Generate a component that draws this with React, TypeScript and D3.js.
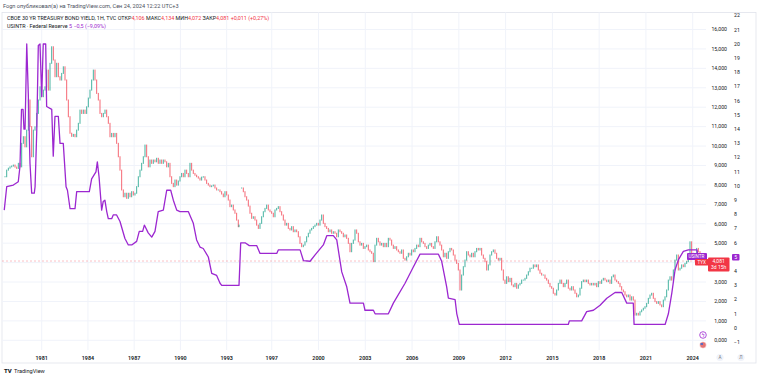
import React from 'react';
import * as d3 from 'd3';

const W = 758;
const H = 379;

const yearTicks = [1981, 1984, 1987, 1990, 1993, 1997, 2000, 2003, 2006, 2009, 2012, 2015, 2018, 2021, 2024];
const tyxTicks = [0, 1, 2, 3, 4, 5, 6, 7, 8, 9, 10, 11, 12, 13, 14, 15, 16];
const fedTicks = [-1, 0, 1, 2, 3, 4, 5, 6, 7, 8, 9, 10, 11, 12, 13, 14, 15, 16, 17, 18, 19, 20, 21, 22];

// USINTR (Federal Reserve rate) – step line
const fedYears = [
  1978.57, 1978.73, 1979.16, 1979.48, 1979.59, 1979.69, 1979.79, 1979.85, 1979.92, 1980.03,
  1980.13, 1980.24, 1980.35, 1980.52, 1980.57, 1980.68, 1980.78, 1980.89, 1981.0, 1981.1,
  1981.26, 1981.32, 1981.65, 1981.75, 1981.86, 1982.08, 1982.19, 1982.4, 1982.58, 1982.67,
  1982.84, 1983.16, 1983.27, 1984.09, 1984.24, 1984.52, 1984.61, 1984.72, 1984.89, 1984.99,
  1985.1, 1985.22, 1985.32, 1985.54, 1985.64, 1985.86, 1986.08, 1986.4, 1986.62, 1986.84,
  1987.16, 1987.33, 1987.55, 1987.66, 1987.91, 1988.14, 1988.35, 1988.56, 1988.89, 1989.11,
  1989.37, 1989.54, 1989.76, 1989.97, 1990.51, 1990.83, 1991.05, 1991.27, 1991.48, 1991.81,
  1992.03, 1992.35, 1992.57, 1992.68, 1993.8, 1995.01, 1995.29, 1995.56, 1996.04, 1996.25,
  1997.32, 1997.42, 1998.82, 1999.03, 1999.46, 1999.78, 2000.31, 2000.53, 2000.95, 2001.17,
  2001.49, 2001.81, 2002.02, 2002.88, 2002.98, 2003.52, 2003.63, 2004.48, 2004.8, 2005.55,
  2006.08, 2006.51, 2007.69, 2007.9, 2008.22, 2008.33, 2008.76, 2008.87, 2009.03, 2016.02,
  2016.09, 2016.88, 2017.2, 2017.63, 2018.06, 2018.49, 2019.02, 2019.45, 2019.77, 2020.19,
  2020.24, 2022.23, 2022.44, 2022.66, 2022.87, 2023.08, 2023.4, 2023.72, 2024.28, 2024.34,
];
const fedValues = [
  8.3, 9.95, 10.07, 10.3, 11.37, 15.4, 15.4, 14.0, 14.0, 20.0,
  16.5, 11.6, 9.5, 9.5, 9.95, 13.9, 19.9, 20.0, 16.3, 20.0,
  20.0, 15.6, 15.4, 12.1, 14.9, 14.9, 13.0, 13.0, 9.95, 9.7,
  8.4, 8.4, 9.6, 9.6, 10.5, 11.0, 11.7, 10.65, 8.3, 8.9,
  9.0, 8.2, 7.7, 7.7, 7.96, 7.96, 7.5, 6.3, 5.85, 5.85,
  6.1, 6.8, 6.8, 7.25, 6.7, 6.4, 6.8, 8.2, 8.3, 9.7,
  9.7, 9.0, 8.3, 8.2, 8.2, 7.4, 6.2, 5.7, 5.6, 5.0,
  3.85, 3.7, 3.15, 3.0, 3.0, 6.0, 6.0, 5.8, 5.8, 5.25,
  5.25, 5.5, 5.5, 4.75, 4.7, 5.15, 5.85, 6.5, 6.5, 6.2,
  3.95, 2.9, 1.75, 1.75, 1.25, 1.25, 1.0, 1.0, 1.75, 3.15,
  4.3, 5.2, 5.2, 4.7, 2.9, 2.1, 2.0, 1.0, 0.25, 0.25,
  0.5, 0.5, 1.15, 1.25, 1.6, 2.1, 2.5, 2.5, 1.75, 1.75,
  0.25, 0.25, 1.0, 2.45, 4.1, 4.8, 5.4, 5.5, 5.5, 5.0,
];

// TYX (CBOE 30Y yield) closes, regular sampling, two segments (data gap in 1994)
const tyxSeg1Start = 1978.62;
const tyxSeg1Step = 0.1081;
const tyxSeg1 = [
  8.42, 8.76, 8.86, 8.93, 8.97, 9.02, 8.92, 8.85, 9.11, 8.93,
  10.14, 10.48, 9.96, 10.82, 12.37, 11.0, 9.45, 10.82, 10.99, 11.68,
  12.37, 13.05, 12.54, 12.88, 13.05, 13.91, 12.88, 14.26, 15.11, 14.43,
  13.57, 14.26, 13.57, 13.4, 13.74, 14.08, 13.4, 12.37, 11.51, 10.66,
  10.5, 10.6, 10.48, 10.82, 11.17, 11.85, 11.68, 11.85, 11.68, 12.02,
  12.47, 12.88, 13.4, 13.91, 13.4, 12.71, 12.37, 11.68, 11.51, 11.68,
  11.85, 11.51, 11.17, 10.48, 10.65, 10.48, 10.65, 10.14, 9.45, 8.76,
  7.74, 7.39, 7.57, 7.31, 7.57, 7.39, 7.65, 7.48, 7.57, 7.91,
  8.42, 8.76, 9.11, 9.45, 10.05, 9.45, 8.93, 9.28, 9.11, 9.28,
  9.19, 9.37, 9.11, 9.28, 9.11, 9.28, 9.19, 8.93, 9.11, 8.42,
  8.08, 7.91, 8.25, 7.99, 8.2, 8.42, 8.59, 8.42, 8.76, 8.59,
  8.42, 9.11, 8.76, 8.59, 8.5, 8.42, 8.35, 8.25, 8.4, 8.42,
  8.25, 8.08, 7.99, 7.91, 7.95, 7.99, 7.84, 7.74, 7.74, 7.65,
  7.53, 7.39, 7.65, 7.48, 7.22, 6.88, 6.96, 6.71, 6.54, 6.19,
  5.85, 5.93,
];
const tyxSeg2Start = 1995.07;
const tyxSeg2Step = 0.1069;
const tyxSeg2 = [
  7.84, 7.65, 7.39, 7.22, 6.91, 6.54, 6.28, 6.36, 6.19, 5.93,
  5.76, 6.02, 6.36, 6.62, 6.79, 6.96, 6.71, 6.62, 6.54, 6.36,
  6.71, 6.79, 6.88, 6.62, 6.45, 6.19, 5.93, 6.02, 5.76, 5.68,
  5.85, 5.59, 5.68, 5.59, 5.33, 4.99, 4.82, 4.9, 5.07, 5.33,
  5.51, 5.68, 5.76, 5.85, 5.93, 6.02, 5.93, 6.19, 6.45, 6.02,
  5.85, 5.76, 5.59, 5.68, 5.51, 5.59, 5.51, 5.33, 5.68, 5.59,
  5.51, 5.33, 5.42, 5.25, 4.99, 4.56, 4.99, 5.16, 5.68, 5.51,
  5.07, 4.9, 4.99, 4.73, 4.82, 4.9, 4.65, 4.56, 4.48, 4.05,
  4.9, 5.25, 5.07, 4.9, 4.99, 4.82, 4.99, 4.82, 5.25, 5.16,
  4.9, 4.73, 4.82, 4.65, 4.56, 4.48, 4.65, 4.22, 4.13, 4.3,
  4.48, 4.39, 4.65, 4.56, 4.73, 4.9, 4.82, 5.25, 5.07, 4.99,
  4.82, 4.73, 4.9, 4.99, 4.82, 4.73, 5.07, 5.33, 5.07, 4.9,
  4.65, 4.3, 4.48, 4.22, 4.56, 4.73, 4.65, 4.39, 4.13, 3.96,
  3.62, 2.59, 3.36, 3.79, 4.13, 4.56, 4.39, 4.3, 4.48, 4.3,
  4.56, 4.73, 4.65, 4.73, 4.39, 4.22, 4.05, 3.62, 3.88, 4.39,
  4.56, 4.65, 4.48, 4.22, 4.13, 4.22, 3.62, 3.1, 2.93, 3.27,
  3.02, 3.19, 2.85, 2.76, 2.93, 2.68, 2.85, 2.93, 3.1, 3.1,
  3.19, 3.36, 3.53, 3.71, 3.71, 3.88, 3.79, 3.88, 3.62, 3.45,
  3.36, 3.36, 3.19, 3.1, 2.93, 2.76, 2.68, 2.42, 2.33, 2.59,
  2.93, 3.1, 2.93, 2.76, 2.93, 3.1, 2.68, 2.59, 2.76, 2.59,
  2.42, 2.24, 2.33, 2.68, 3.02, 3.1, 3.02, 3.1, 2.93, 2.85,
  2.93, 2.85, 2.93, 2.76, 3.02, 2.93, 3.1, 3.19, 3.1, 3.02,
  3.1, 2.93, 3.27, 3.36, 3.1, 3.02, 2.93, 2.76, 2.59, 2.5,
  2.33, 2.24, 2.33, 2.07, 2.24, 2.07, 1.3, 1.39, 1.3, 1.47,
  1.56, 1.65, 1.73, 1.9, 2.16, 2.33, 2.42, 2.16, 1.99, 1.9,
  1.99, 1.82, 1.73, 2.07, 2.24, 2.59, 3.1, 3.27, 3.1, 3.62,
  4.13, 4.39, 3.62, 3.71, 3.88, 3.79, 3.96, 4.05, 4.22, 5.07,
  4.48, 4.22, 4.39, 4.73, 4.56, 4.08,
];

const tyxLast = 4.081;
const fedLast = 5;

const FONT = 'Roboto, "Liberation Sans", Arial, sans-serif';
const UP = '#089981';
const DOWN = '#f23645';
const PURPLE = '#9c27d0';
const TEXT = '#131722';

const fmtPrice = (v: number) => d3.format('.3f')(v).replace('.', ',');
const fmtFed = (v: number) => (v < 0 ? '\u2212' + Math.abs(v) : String(v));

export default function App() {
  const plotRight = 706;
  const plotTop = 12.5;
  const plotBottom = 350;

  const x = d3.scaleLinear().domain([1981, 1993.8, 1994.9, 2024]).range([41.7, 239, 239, 692.7]);
  const yT = d3.scaleLinear().domain([0, 16]).range([340.3, 29.5]);
  const yF = d3.scaleLinear().domain([0, 22]).range([328, 15.6]);

  type Candle = { t: number; o: number; c: number };
  const candles: Candle[] = [];
  const addSeg = (start: number, step: number, vals: number[]) => {
    vals.forEach((c, i) => {
      const o = i > 0 ? vals[i - 1] : c;
      candles.push({ t: start + i * step, o, c });
    });
  };
  addSeg(tyxSeg1Start, tyxSeg1Step, tyxSeg1);
  addSeg(tyxSeg2Start, tyxSeg2Step, tyxSeg2);

  const fedPts: [number, number][] = fedYears.map((t, i) => [t, fedValues[i]]);
  const fedLine = d3
    .line<[number, number]>()
    .x((d) => x(d[0]))
    .y((d) => yF(d[1]));

  const lastTY = yT(tyxLast);
  const lastFY = yF(fedLast);

  // axis labels hidden behind the last-value badges
  const tyxVisible = tyxTicks.filter((v) => Math.abs(yT(v) - (lastTY + 3.5)) > 8);
  const fedVisible = fedTicks.filter((v) => Math.abs(yF(v) - lastFY) > 4);

  return (
    <svg
      width={W}
      height={H}
      viewBox={`0 0 ${W} ${H}`}
      style={{ position: 'absolute', left: 0, top: 0, background: '#fff', fontFamily: FONT }}
    >
      <rect x={0} y={0} width={W} height={H} fill="#fff" />
      {/* pane border */}
      <rect x={2} y={plotTop} width={W - 4} height={363 - plotTop} fill="none" stroke="#e0e3eb" strokeWidth={0.8} />

      {/* grid */}
      <g stroke="#f0f3fa" strokeWidth={1}>
        {tyxTicks.map((v) => (
          <line key={'h' + v} x1={2} x2={plotRight} y1={yT(v)} y2={yT(v)} />
        ))}
        {yearTicks.map((yr) => (
          <line key={'v' + yr} x1={x(yr)} x2={x(yr)} y1={plotTop} y2={plotBottom} />
        ))}
      </g>

      {/* header */}
      <text x={3} y={8} fontSize={5.6} fill="#4a4f5c">
        Fogn опубликовал(а) на TradingView.com, Сен 24, 2024 12:22 UTC+3
      </text>
      <text x={7} y={19.5} fontSize={5.4} fill={TEXT}>
        <tspan>CBOE 30 YR TREASURY BOND YIELD, 1Н, TVC  </tspan>
        <tspan>ОТКР</tspan>
        <tspan fill={DOWN}>{fmtPrice(4.106)}</tspan>
        <tspan>  МАКС</tspan>
        <tspan fill={DOWN}>{fmtPrice(4.134)}</tspan>
        <tspan>  МИН</tspan>
        <tspan fill={DOWN}>{fmtPrice(4.072)}</tspan>
        <tspan>  ЗАКР</tspan>
        <tspan fill={DOWN}>{fmtPrice(tyxLast)}</tspan>
        <tspan fill={DOWN}>  +0,011 (+0,27%)</tspan>
      </text>
      <text x={7} y={28} fontSize={5.4} fill={TEXT}>
        <tspan>USINTR · Federal Reserve  </tspan>
        <tspan fill={PURPLE}>5  −0,5 (−9,09%)</tspan>
      </text>

      {/* last price dashed line */}
      <line x1={2} x2={plotRight} y1={lastTY} y2={lastTY} stroke={DOWN} strokeOpacity={0.45} strokeWidth={0.7} strokeDasharray="2,2" />

      {/* candles */}
      <g>
        {candles.map((d, i) => {
          const top = yT(Math.max(d.o, d.c));
          const bot = yT(Math.min(d.o, d.c));
          return (
            <rect
              key={i}
              x={x(d.t) - 0.5}
              y={top - 0.5}
              width={1.0}
              height={Math.max(1, bot - top + 1)}
              fill={d.c >= d.o ? UP : DOWN}
              fillOpacity={0.75}
            />
          );
        })}
      </g>

      {/* fed line */}
      <path d={fedLine(fedPts) || ''} fill="none" stroke={PURPLE} strokeWidth={1.3} strokeLinejoin="round" />

      {/* TYX price scale */}
      <g fontSize={5.2} fill={TEXT} textAnchor="end">
        {tyxVisible.map((v) => (
          <text key={'t' + v} x={727} y={yT(v) + 1.8}>
            {fmtPrice(v)}
          </text>
        ))}
      </g>
      {/* Fed scale */}
      <g fontSize={5.2} fill={TEXT} textAnchor="start">
        {fedVisible.map((v) => (
          <text key={'f' + v} x={734} y={yF(v) + 1.8}>
            {fmtFed(v)}
          </text>
        ))}
      </g>

      {/* series name labels */}
      <rect x={687} y={lastFY - 4} width={20} height={7} rx={1} fill={PURPLE} />
      <text x={688.5} y={lastFY + 1.2} fontSize={4.6} fill="#fff">USINTR</text>
      <rect x={695} y={lastTY - 2} width={13.5} height={6.5} rx={1} fill={DOWN} />
      <text x={701.7} y={lastTY + 2.8} fontSize={4.6} fill="#fff" textAnchor="middle">TYX</text>

      {/* last value labels */}
      <rect x={708} y={lastTY - 3.5} width={21.5} height={14} rx={1} fill={DOWN} />
      <text x={718.7} y={lastTY + 1.9} fontSize={5} fill="#fff" textAnchor="middle">{fmtPrice(tyxLast)}</text>
      <text x={718.7} y={lastTY + 8.4} fontSize={5} fill="#fff" textAnchor="middle">3d 15h</text>
      <rect x={732} y={lastFY - 3} width={7.5} height={6.5} rx={1} fill={PURPLE} />
      <text x={735.7} y={lastFY + 1.8} fontSize={5.2} fill="#fff" textAnchor="middle">{fedLast}</text>

      {/* event markers */}
      <circle cx={703} cy={335} r={3.3} fill="#fff" stroke={PURPLE} strokeWidth={0.8} />
      <text x={703} y={337} fontSize={5} fill={PURPLE} textAnchor="middle">ϟ</text>
      <circle cx={703} cy={345} r={3.3} fill="#e57373" stroke="#fff" strokeWidth={0.6} />
      <rect x={700.5} y={343} width={2.5} height={2} fill="#5c6bc0" />

      {/* time axis */}
      <g fontSize={5.4} fill={TEXT} textAnchor="middle" fontWeight={600}>
        {yearTicks.map((yr) => (
          <text key={'y' + yr} x={x(yr)} y={359.5}>
            {yr}
          </text>
        ))}
      </g>
      <circle cx={720} cy={357.5} r={3.6} fill="#f0f3fa" />
      <text x={720} y={359.3} fontSize={4.6} fill="#787b86" textAnchor="middle">A</text>
      <circle cx={741} cy={357.5} r={3.6} fill="#f0f3fa" />
      <text x={741} y={359.3} fontSize={4.6} fill="#787b86" textAnchor="middle">Л</text>

      {/* logo */}
      <text x={4} y={372.5} fontSize={6} fontWeight={800} fill={TEXT}>TV</text>
      <text x={14} y={372.5} fontSize={5.6} fill={TEXT}>TradingView</text>
    </svg>
  );
}
